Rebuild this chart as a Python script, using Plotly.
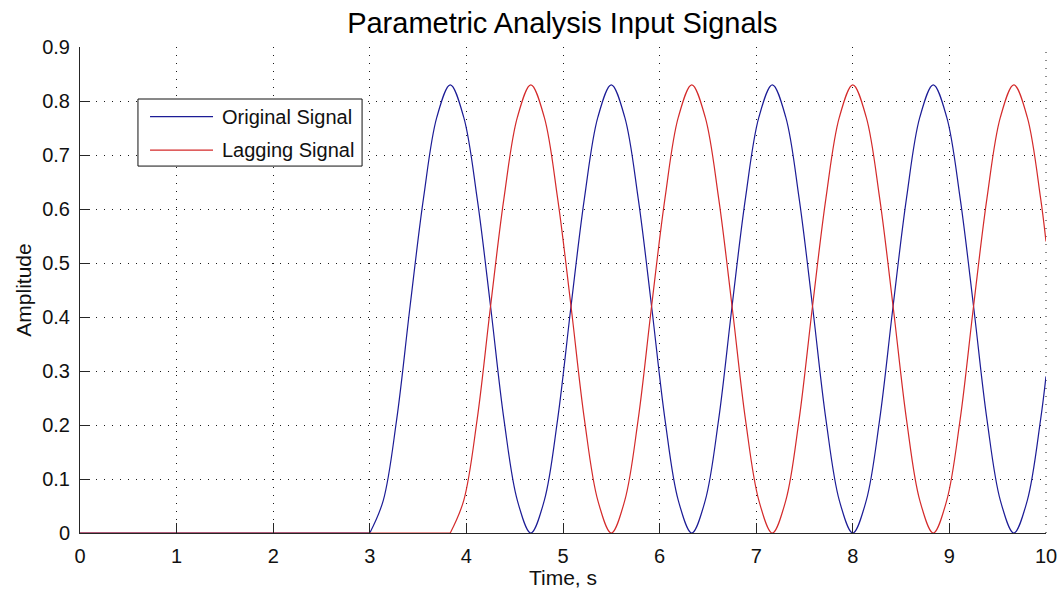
import plotly.graph_objects as go

# Shared time base (s): flat lead-in, then samples every 1/12 of a 5/3 s cycle
time_s = [0.0, 3.000, 3.139, 3.278, 3.417, 3.556, 3.694, 3.833, 3.972, 4.111, 4.250,
          4.389, 4.528, 4.667, 4.806, 4.944, 5.083, 5.222, 5.361, 5.500, 5.639,
          5.778, 5.917, 6.056, 6.194, 6.333, 6.472, 6.611, 6.750, 6.889, 7.028,
          7.167, 7.306, 7.444, 7.583, 7.722, 7.861, 8.000, 8.139, 8.278, 8.417,
          8.556, 8.694, 8.833, 8.972, 9.111, 9.250, 9.389, 9.528, 9.667, 9.806,
          9.944, 10.0]

original_signal = [0.0, 0.00, 0.06, 0.21, 0.42, 0.62, 0.77, 0.83, 0.77, 0.62, 0.42,
                   0.21, 0.06, 0.00, 0.06, 0.21, 0.42, 0.62, 0.77, 0.83, 0.77,
                   0.62, 0.42, 0.21, 0.06, 0.00, 0.06, 0.21, 0.42, 0.62, 0.77,
                   0.83, 0.77, 0.62, 0.42, 0.21, 0.06, 0.00, 0.06, 0.21, 0.42,
                   0.62, 0.77, 0.83, 0.77, 0.62, 0.42, 0.21, 0.06, 0.00, 0.06,
                   0.21, 0.29]

lagging_signal = [0.0, 0.00, 0.00, 0.00, 0.00, 0.00, 0.00, 0.00, 0.06, 0.21, 0.42,
                  0.62, 0.77, 0.83, 0.77, 0.62, 0.42, 0.21, 0.06, 0.00, 0.06,
                  0.21, 0.42, 0.62, 0.77, 0.83, 0.77, 0.62, 0.42, 0.21, 0.06,
                  0.00, 0.06, 0.21, 0.42, 0.62, 0.77, 0.83, 0.77, 0.62, 0.42,
                  0.21, 0.06, 0.00, 0.06, 0.21, 0.42, 0.62, 0.77, 0.83, 0.77,
                  0.62, 0.54]

series_names = ["Original Signal", "Lagging Signal"]
series_colors = ["#1c1c96", "#d42a2a"]
x_ticks = list(range(0, 11))
y_ticks = [0, 0.1, 0.2, 0.3, 0.4, 0.5, 0.6, 0.7, 0.8, 0.9]
y_tick_labels = ["0", "0.1", "0.2", "0.3", "0.4", "0.5", "0.6", "0.7", "0.8", "0.9"]

FONT = "Liberation Sans, Arial, sans-serif"
AXIS_COLOR = "#262626"
TEXT_COLOR = "#111111"
GRID_COLOR = "#1a1a1a"
GRID_DASH = "1px,7px"

fig = go.Figure()
for name, values, color in zip(series_names, [original_signal, lagging_signal], series_colors):
    # Index of the last zero sample before the waveform starts rising
    first_rise = next(i for i, v in enumerate(values) if v > 0)
    onset = first_rise - 1
    # Idle (zero) stretch drawn straight, oscillation drawn as a smooth curve
    fig.add_trace(go.Scatter(
        x=time_s[:onset + 1], y=values[:onset + 1], mode="lines", name=name,
        line=dict(color=color, width=1.2), showlegend=False, hoverinfo="skip",
    ))
    fig.add_trace(go.Scatter(
        x=time_s[onset:], y=values[onset:], mode="lines", name=name,
        line=dict(color=color, width=1.2, shape="spline", smoothing=1.0),
        showlegend=False,
    ))

axis_common = dict(
    showline=True, linecolor=AXIS_COLOR, linewidth=1, mirror=False,
    ticks="inside", ticklen=10, tickwidth=1, tickcolor=AXIS_COLOR,
    showgrid=True, gridcolor=GRID_COLOR, gridwidth=1, griddash=GRID_DASH,
    zeroline=False, automargin=False, ticklabeloverflow="allow",
    tickfont=dict(family=FONT, size=20, color=TEXT_COLOR),
)

fig.update_xaxes(range=[0, 10], tickvals=x_ticks, ticklabelstandoff=5,
                 title=dict(text="Time, s", font=dict(family=FONT, size=21, color=TEXT_COLOR),
                            standoff=2),
                 **axis_common)
fig.update_yaxes(range=[0, 0.9], tickvals=y_ticks, ticktext=y_tick_labels,
                 ticklabelstandoff=5,
                 title=dict(text="Amplitude", font=dict(family=FONT, size=21, color=TEXT_COLOR),
                            standoff=4),
                 **axis_common)

# Grid line along the right edge of the axes (x = 10)
fig.add_shape(type="line", xref="x domain", yref="y domain", x0=1, x1=1, y0=0, y1=1,
              line=dict(color=GRID_COLOR, width=1, dash=GRID_DASH), layer="below")

# Boxed legend in the upper-left of the axes
legend_box = dict(x0=0.060, x1=0.292, y0=0.755, y1=0.893)
row_y = [0.8566, 0.788]
fig.add_shape(type="rect", xref="x domain", yref="y domain", **legend_box,
              line=dict(color="#111111", width=1), fillcolor="white", layer="above")
for name, color, yy in zip(series_names, series_colors, row_y):
    fig.add_shape(type="line", xref="x domain", yref="y domain",
                  x0=0.0725, x1=0.1377, y0=yy, y1=yy,
                  line=dict(color=color, width=1.2), layer="above")
    fig.add_annotation(xref="x domain", yref="y domain", x=0.145, y=yy,
                       xanchor="left", yanchor="middle", text=name, showarrow=False,
                       font=dict(family=FONT, size=20, color=TEXT_COLOR))

fig.update_layout(
    width=1057, height=589,
    margin=dict(l=80, r=11, t=47, b=56),
    paper_bgcolor="white", plot_bgcolor="white",
    title=dict(text="Parametric Analysis Input Signals", x=0.532, xanchor="center",
               y=0.962, yanchor="middle", yref="container",
               font=dict(family=FONT, size=29, color="#000000")),
)

fig.write_html("out.html")
